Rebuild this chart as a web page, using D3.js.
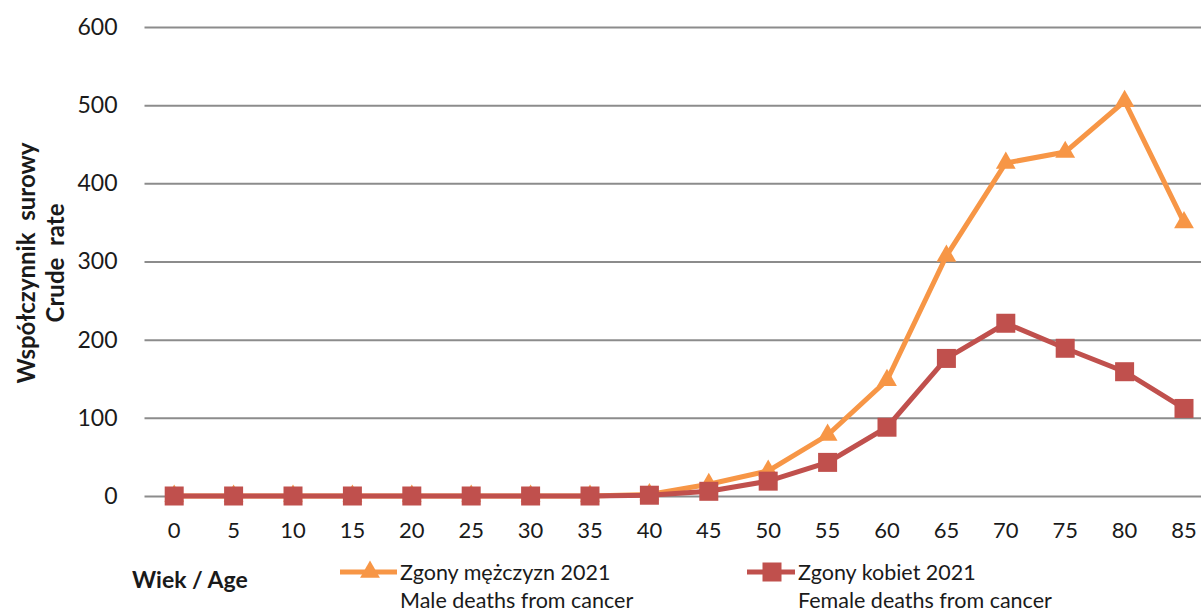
<!DOCTYPE html>
<html>
<head>
<meta charset="utf-8">
<script src="https://cdn.jsdelivr.net/npm/d3@7"></script>
<style>
  body { margin: 0; background: #fff; }
  text { font-family: Lato, "Noto Sans", sans-serif; fill: #1a1a1a; }
</style>
</head>
<body>
<script>
// age groups and crude rates
let ages = ["0","5","10","15","20","25","30","35","40","45","50","55","60","65","70","75","80","85"];
let maleRates   = [0,0,0,0,0,0,0,0,2,15,32,78,148,307,426,440,505,350];
let femaleRates = [0,0,0,0,0,0,0,0,1,6,19,43,88,176,221,189,159,112];
let yTicks = [0,100,200,300,400,500,600];
let maleLabel = ["Zgony mężczyzn 2021", "Male deaths from cancer"];
let femaleLabel = ["Zgony kobiet 2021", "Female deaths from cancer"];

let w = 1201, h = 615;
let orange = "#f79646", red = "#c0504d";

let svg = d3.select("body").append("svg")
    .attr("width", w)
    .attr("height", h);

let x = d3.scaleBand()
  .domain(ages)
  .range([144.5, 144.5 + 18 * 59.4]);

let y = d3.scaleLinear()
  .domain([0, 600])
  .range([496, 27]);

// gridlines + y labels
let yAxis = svg.append("g")
  .attr("transform", "translate(144.5,0)")
  .call(d3.axisLeft(y).tickValues(yTicks).tickSize(-(w - 144.5)).tickPadding(27));
yAxis.select(".domain").remove();
yAxis.selectAll("line").attr("stroke", "#8c8c8c").attr("stroke-width", 2);
yAxis.selectAll("text").style("font-size", "23px").attr("fill", "#111");

// x labels
let xAxis = svg.append("g")
  .attr("transform", "translate(0,496)")
  .call(d3.axisBottom(x).tickSize(0).tickPadding(26));
xAxis.select(".domain").remove();
xAxis.selectAll("text").style("font-size", "22px").attr("fill", "#111");

let cx = d => x(d) + x.bandwidth() / 2;

let line = d3.line()
  .x((d, i) => cx(ages[i]))
  .y(d => y(d));

svg.append("path")
  .datum(maleRates)
  .attr("d", line)
  .attr("fill", "none")
  .attr("stroke", orange)
  .attr("stroke-width", 5);

svg.append("g").selectAll("path")
  .data(maleRates)
  .join("path")
    .attr("d", d3.symbol(d3.symbolTriangle, 170))
    .attr("transform", (d, i) => `translate(${cx(ages[i])},${y(d)})`)
    .attr("fill", orange);

svg.append("path")
  .datum(femaleRates)
  .attr("d", line)
  .attr("fill", "none")
  .attr("stroke", red)
  .attr("stroke-width", 5);

svg.append("g").selectAll("rect")
  .data(femaleRates)
  .join("rect")
    .attr("x", (d, i) => cx(ages[i]) - 9.5)
    .attr("y", d => y(d) - 9.5)
    .attr("width", 19)
    .attr("height", 19)
    .attr("fill", red);

// axis titles
let yTitle = svg.append("text")
  .attr("transform", "translate(0,263) rotate(-90)")
  .attr("text-anchor", "middle")
  .style("font-size", "24px")
  .style("font-weight", "bold");
yTitle.append("tspan").attr("x", 0).attr("y", 35).attr("xml:space", "preserve").text("Współczynnik  surowy");
yTitle.append("tspan").attr("x", 0).attr("y", 64).attr("xml:space", "preserve").text("Crude  rate");

svg.append("text")
  .attr("x", 132)
  .attr("y", 588)
  .style("font-size", "23px")
  .style("font-weight", "bold")
  .text("Wiek / Age");

// legend
function legendItem(x0, x1, mx, label, colour, marker) {
  let g = svg.append("g");
  g.append("line")
    .attr("x1", x0).attr("x2", x1)
    .attr("y1", 572).attr("y2", 572)
    .attr("stroke", colour).attr("stroke-width", 5);
  if (marker === "triangle") {
    g.append("path")
      .attr("d", d3.symbol(d3.symbolTriangle, 170))
      .attr("transform", `translate(${mx},572)`)
      .attr("fill", colour);
  } else {
    g.append("rect")
      .attr("x", mx - 9.5).attr("y", 562.5)
      .attr("width", 19).attr("height", 19)
      .attr("fill", colour);
  }
  g.append("text").attr("x", x1 + 3).attr("y", 580).style("font-size", "21.5px").text(label[0]);
  g.append("text").attr("x", x1 + 3).attr("y", 608).style("font-size", "21.5px").text(label[1]);
}
legendItem(340, 397, 370, maleLabel, orange, "triangle");
legendItem(747, 795, 772, femaleLabel, red, "square");
</script>
</body>
</html>
